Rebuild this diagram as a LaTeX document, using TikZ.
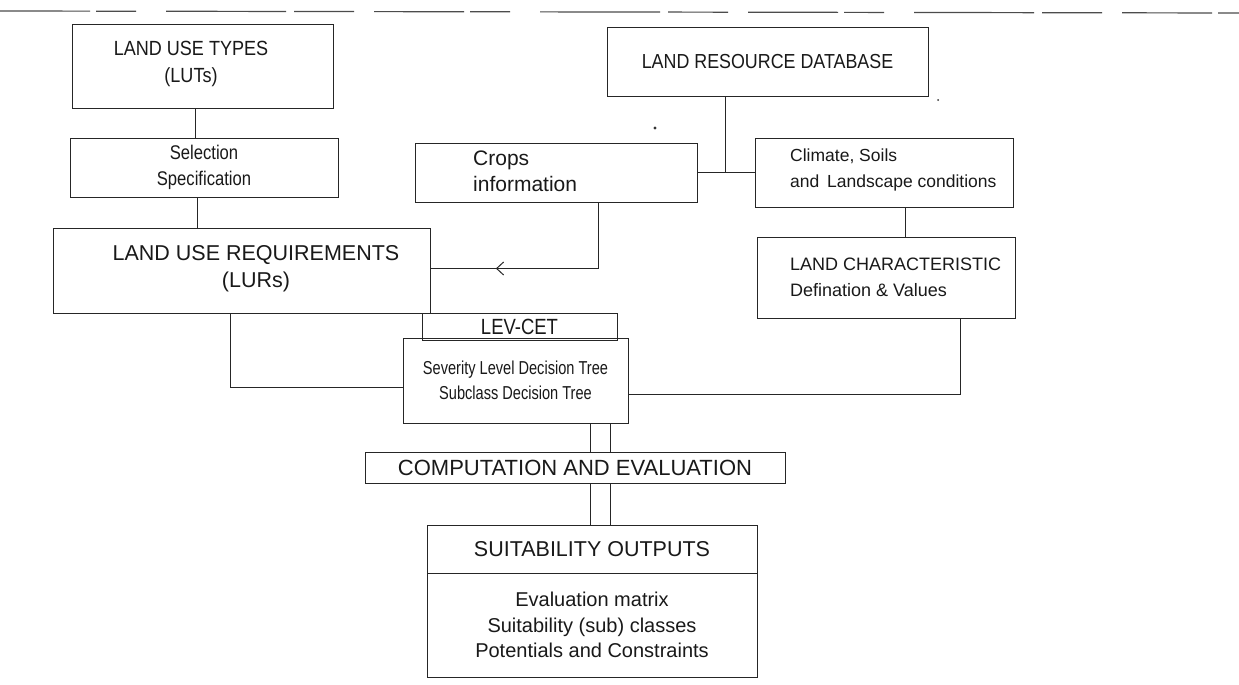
\documentclass[tikz,border=0pt]{standalone}
\usepackage{fontspec}
\setmainfont{Liberation Sans}
\newfontfamily\narrowA{Liberation Sans}[FakeStretch=0.88]
\newfontfamily\narrowB{Liberation Sans}[FakeStretch=0.84]
\newfontfamily\narrowC{Liberation Sans}[FakeStretch=0.78]
\usetikzlibrary{arrows.meta,decorations.markings}
\tikzset{
  box/.style={draw=black!85, line width=1pt, inner sep=0pt, align=center, text=black!90},
  txt/.style={inner sep=0pt, align=left, anchor=west, text=black!90},
  fs/.style={font=\fontsize{#1}{26}\selectfont},
  conn/.style={draw=black!85, line width=1pt},
  midarrow/.style={conn, postaction={decorate}, decoration={markings,
    mark=at position 0.72 with {\arrow{Straight Barb[length=7pt,width=13pt,line width=1pt]}}}},
  rule/.style={draw=black!70, line width=1.2pt, dash pattern=on 90pt off 6pt on 40pt off 30pt on 120pt off 8pt on 60pt off 20pt},
  speck/.style={fill=black!80, draw=none}
}
\begin{document}
\begin{tikzpicture}[x=1pt,y=-1pt]
\useasboundingbox (0,0) rectangle (1239,685);
\fill[white] (0,0) rectangle (1239,685);
% top scanned rule
\draw[rule] (0,11) -- (1239,13);
\fill[speck] (655,128) circle (1.6pt);
\fill[speck] (938,100) circle (1.0pt);
% boxes
\node[box, minimum width=261pt, minimum height=83pt] (lut) at (202.5,66.5) {};
\node[txt, anchor=center, align=center, font=\narrowA\fontsize{20.5}{27}\selectfont] (lutt) at (191,64) {LAND USE TYPES\\(LUTs)};
\node[box, font=\narrowB\fontsize{19.8}{26}\selectfont, minimum width=268pt, minimum height=59pt] (sel) at (204,167.5) {Selection\\Specification};
\node[box, minimum width=377pt, minimum height=85pt] (lur) at (241.5,270.5) {};
\node[txt, anchor=center, align=center, font=\fontsize{21.5}{27}\selectfont] (lurt) at (256,268.5) {LAND USE REQUIREMENTS\\(LURs)};
\node[box, font=\narrowA\fontsize{20.3}{26}\selectfont, minimum width=321pt, minimum height=68pt] (lrd) at (767.5,62) {LAND RESOURCE DATABASE};
\node[box, minimum width=282pt, minimum height=59pt] (crops) at (556,172.5) {};
\node[txt, fs=21] (cropst) at (473,171) {Crops\\information};
\node[box, minimum width=258pt, minimum height=69pt] (clim) at (884,172.5) {};
\node[txt, fs=17.5] (climt) at (790,169.5) {Climate, Soils\\and\, Landscape conditions};
\node[box, minimum width=258pt, minimum height=81pt] (lchar) at (886,277.5) {};
\node[txt, fs=18] (lchart) at (790,277.5) {LAND CHARACTERISTIC\\Defination \& Values};
\node[box, font=\narrowB\fontsize{22}{26}\selectfont, minimum width=195pt, minimum height=27pt] (lev) at (519.5,326.5) {LEV-CET};
\node[box, font=\narrowC\fontsize{18.7}{25}\selectfont, minimum width=225pt, minimum height=85pt] (sev) at (515.5,380.5) {Severity Level Decision Tree\\Subclass Decision Tree};
\node[box, fs=22, minimum width=420pt, minimum height=31pt] (comp) at (575,467.5) {COMPUTATION AND EVALUATION};
\node[box, fs=21.5, minimum width=330pt, minimum height=48pt] (suit) at (592,549) {SUITABILITY OUTPUTS};
\node[box, font=\fontsize{20}{25.5}\selectfont, minimum width=330pt, minimum height=104pt] (suitb) at (592,625) {Evaluation matrix\\Suitability (sub) classes\\Potentials and Constraints};
% connectors
\draw[conn] ([xshift=-7.5pt]lut.south) -- ([xshift=-9pt]sel.north);
\draw[conn] ([xshift=-7pt]sel.south) -- ([xshift=-44.5pt]lur.north);
\coordinate (jn) at ([xshift=-42.5pt]lrd.south |- crops.east);
\draw[conn] ([xshift=-42.5pt]lrd.south) -- (jn);
\draw[conn] (crops.east) -- (clim.west);
\draw[midarrow] ([xshift=42pt]crops.south) |- ([yshift=2pt]lur.east);
\draw[conn] ([xshift=21pt]clim.south) -- ([xshift=19pt]lchar.north);
\draw[conn] ([xshift=-11.5pt]lur.south) |- ([yshift=-6.5pt]sev.west);
\draw[conn] ([xshift=74pt]lchar.south) |- ([yshift=-14pt]sev.east);
\draw[conn] ([xshift=74.5pt]sev.south) -- ([xshift=15pt]comp.north);
\draw[conn] ([xshift=94.5pt]sev.south) -- ([xshift=35pt]comp.north);
\draw[conn] ([xshift=15pt]comp.south) -- ([xshift=-2pt]suit.north);
\draw[conn] ([xshift=35pt]comp.south) -- ([xshift=18pt]suit.north);
\end{tikzpicture}
\end{document}
